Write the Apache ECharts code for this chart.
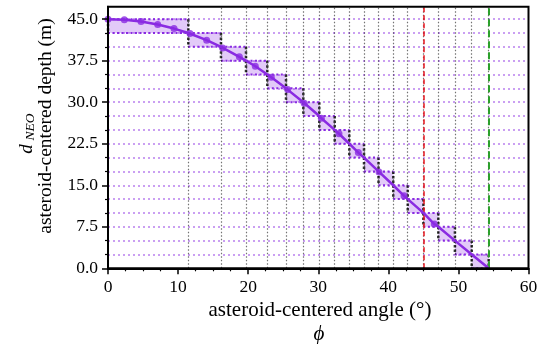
<!DOCTYPE html>
<html><head><meta charset="utf-8">
<script src="https://cdn.jsdelivr.net/npm/echarts@6/dist/echarts.min.js"></script>
<style>html,body{margin:0;padding:0;background:#fff}#c{width:546px;height:344px}</style>
</head><body><div id="c"></div>
<script>
// step boundaries (angle, deg) and matching depth levels (m)
const stepAngles = [0, 11.46, 16.12, 19.69, 22.73, 25.40, 27.87, 30.15, 32.35, 34.43, 36.53, 38.60, 40.70, 42.77, 45.00, 47.13, 49.50, 51.90, 54.32];
const stepDepths = [45, 42.5, 40, 37.5, 35, 32.5, 30, 27.5, 25, 22.5, 20, 17.5, 15, 12.5, 10, 7.5, 5, 2.5, 0];
// sampled curve points shown with markers
const markerAngles = [0, 2.33, 4.71, 7.09, 9.42, 11.70, 14.08, 16.36, 18.74, 21.02, 23.30, 25.64, 28.00, 30.44, 32.96, 35.72, 38.67, 42.24, 46.56];
const markerDepths = [45.0, 44.88, 44.58, 44.05, 43.3, 42.4, 41.2, 39.8, 38.2, 36.5, 34.5, 32.3, 29.8, 27.1, 24.3, 20.9, 17.4, 13.1, 8.0];
const yMajorTicks = [0, 7.5, 15, 22.5, 30, 37.5, 45];
const yMinorTicks = [2.5, 5, 10, 12.5, 17.5, 20, 25, 27.5, 32.5, 35, 40, 42.5];
const gridDepths = [2.5, 5, 7.5, 10, 12.5, 15, 17.5, 20, 22.5, 25, 27.5, 30, 32.5, 35, 37.5, 40, 42.5, 45];
const redAngle = 45.0;
const greenAngle = 54.32;

const FONT = '"Liberation Serif","DejaVu Serif",serif';
const PURPLE = '#8a2be2';

const rectData = [];
for (let i = 0; i < stepAngles.length - 1; i++) {
  rectData.push([stepAngles[i], stepAngles[i + 1], stepDepths[i], stepDepths[i + 1]]);
}
const curvePts = [];
markerAngles.forEach((a, i) => curvePts.push([a, markerDepths[i]]));
stepAngles.forEach((a, i) => curvePts.push([a, stepDepths[i]]));
curvePts.sort((p, q) => p[0] - q[0]);

const chart = echarts.init(document.getElementById('c'), null, {renderer: 'canvas'});
chart.setOption({
  animation: false,
  grid: {left: 108, right: 17.5, top: 6.7, bottom: 75.7, show: true, borderColor: '#000', borderWidth: 2, z: 10},
  xAxis: {
    type: 'value', min: 0, max: 60, interval: 10, z: 10,
    axisLine: {lineStyle: {color: '#000', width: 2}},
    axisTick: {length: 6, lineStyle: {color: '#000', width: 1.5}},
    minorTick: {show: true, splitNumber: 4, length: 3, lineStyle: {color: '#000', width: 1.2}},
    axisLabel: {fontFamily: FONT, fontSize: 17.5, color: '#000', margin: 10},
    splitLine: {show: false}, minorSplitLine: {show: false}
  },
  yAxis: [{
    type: 'value', min: 0, max: 47.25, interval: 7.5, z: 10,
    axisLine: {lineStyle: {color: '#000', width: 2}},
    axisTick: {length: 6, customValues: yMajorTicks, lineStyle: {color: '#000', width: 1.5}},
    axisLabel: {customValues: yMajorTicks, fontFamily: FONT, fontSize: 17.5, color: '#000', margin: 10,
      padding: [5, 0, 0, 0], formatter: v => Number(v).toFixed(1)},
    splitLine: {show: false}
  }, {
    type: 'value', min: 0, max: 47.25, position: 'left', z: 10,
    axisLine: {show: false},
    axisTick: {length: 3, customValues: yMinorTicks, lineStyle: {color: '#000', width: 1.2}},
    axisLabel: {show: false},
    splitLine: {show: false}
  }],
  graphic: [
    {type: 'text', x: 320, y: 310, style: {text: 'asteroid-centered angle (°)', font: '21px ' + FONT, fill: '#000', align: 'center', verticalAlign: 'middle'}},
    {type: 'text', x: 319, y: 334, style: {text: 'ϕ', font: 'italic 21px ' + FONT, fill: '#000', align: 'center', verticalAlign: 'middle'}},
    {type: 'text', x: 46, y: 126, rotation: Math.PI / 2, style: {text: 'asteroid-centered depth (m)', font: '19.5px ' + FONT, fill: '#000', align: 'center', verticalAlign: 'middle'}},
    {type: 'text', x: 27, y: 149, rotation: Math.PI / 2, style: {text: 'd', font: 'italic 19px ' + FONT, fill: '#000', align: 'center', verticalAlign: 'middle'}},
    {type: 'text', x: 30, y: 127, rotation: Math.PI / 2, style: {text: 'NEO', font: 'italic 13.5px ' + FONT, fill: '#000', align: 'center', verticalAlign: 'middle'}}
  ],
  series: [
    {
      type: 'line', data: [], z: 1, silent: true,
      markLine: {silent: true, symbol: 'none', label: {show: false},
        lineStyle: {color: 'rgba(138,43,226,0.6)', width: 1.5, type: [2, 3]},
        data: gridDepths.map(d => ({yAxis: d}))}
    },
    {
      type: 'line', data: [], z: 1, silent: true,
      markLine: {silent: true, symbol: 'none', label: {show: false},
        lineStyle: {color: 'rgba(0,0,0,0.55)', width: 1.2, type: [1.5, 2]},
        data: stepAngles.slice(1).map(a => ({xAxis: a}))}
    },
    {
      type: 'custom', z: 2, silent: true, data: rectData,
      encode: {x: [0, 1], y: [2, 3]},
      renderItem: function (params, api) {
        const p0 = api.coord([api.value(0), api.value(2)]);
        const p1 = api.coord([api.value(1), api.value(3)]);
        const x = p0[0], y = p0[1], w = p1[0] - p0[0], h = p1[1] - p0[1];
        const hs = {stroke: PURPLE, lineWidth: 2, lineDash: [2, 2.5]};
        const vs = {stroke: '#333', lineWidth: 2.5, lineDash: [2.5, 2]};
        return {type: 'group', children: [
          {type: 'rect', shape: {x: x, y: y, width: w, height: h}, style: {fill: 'rgba(138,43,226,0.25)'}},
          {type: 'line', shape: {x1: x, y1: y, x2: x + w, y2: y}, style: hs},
          {type: 'line', shape: {x1: x, y1: y + h, x2: x + w, y2: y + h}, style: hs},
          {type: 'line', shape: {x1: x, y1: y, x2: x, y2: y + h}, style: vs},
          {type: 'line', shape: {x1: x + w, y1: y, x2: x + w, y2: y + h}, style: vs}
        ]};
      }
    },
    {
      type: 'line', data: [], z: 3, silent: true,
      markLine: {silent: true, symbol: 'none', label: {show: false},
        data: [
          {xAxis: redAngle, lineStyle: {color: '#e8141c', width: 1.5, type: [5, 3]}},
          {xAxis: greenAngle, lineStyle: {color: '#2ca02c', width: 2, type: [7, 4]}}
        ]}
    },
    {
      type: 'line', data: curvePts, z: 5, showSymbol: false, symbol: 'none', silent: true,
      lineStyle: {color: PURPLE, width: 2.5}
    },
    {
      type: 'scatter', data: markerAngles.map((a, i) => [a, markerDepths[i]]), z: 6, silent: true,
      symbolSize: 7, itemStyle: {color: PURPLE}
    }
  ]
});
</script></body></html>
